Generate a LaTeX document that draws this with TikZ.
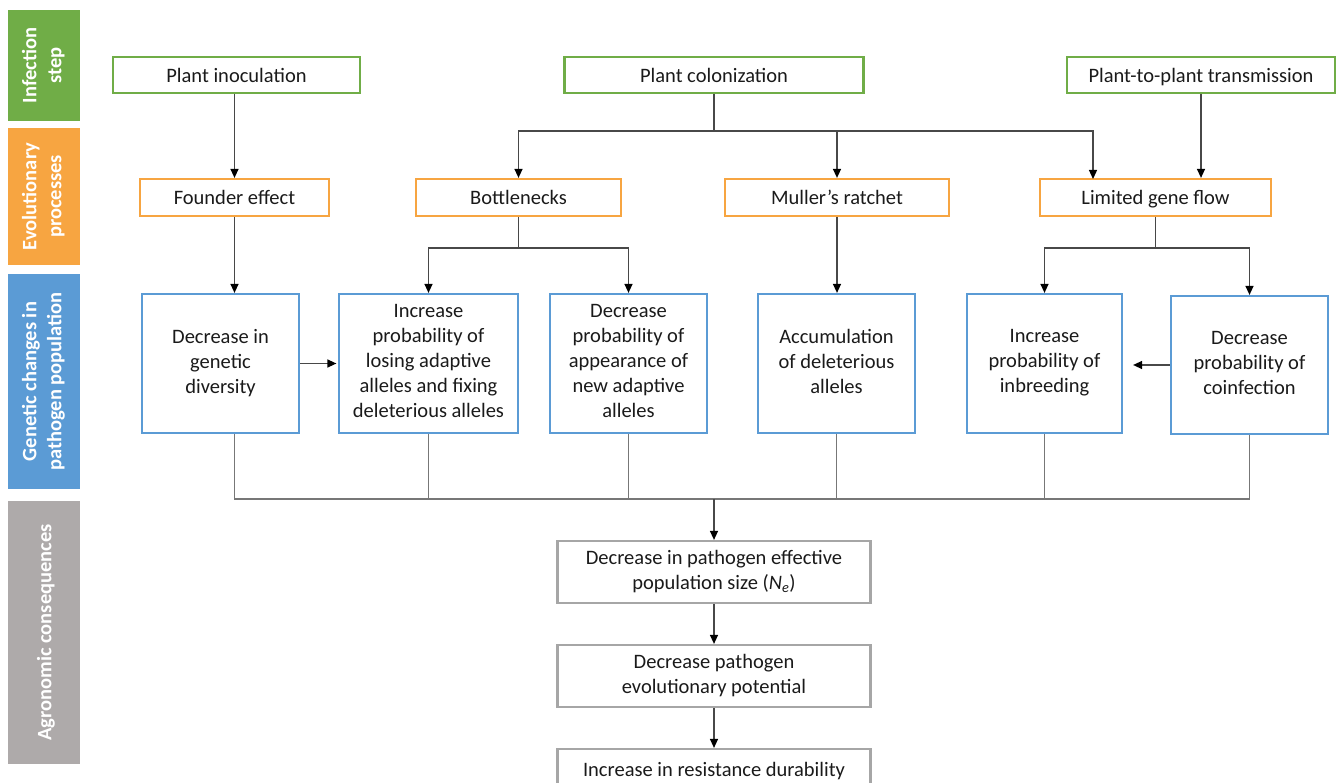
\documentclass[tikz,border=0pt]{standalone}
\usepackage{fontspec}
\setmainfont{Carlito}
\usetikzlibrary{arrows.meta,positioning,calc}
\definecolor{cgreen}{HTML}{70AD47}
\definecolor{corange}{HTML}{F7A541}
\definecolor{cblue}{HTML}{5B9BD5}
\definecolor{cgraybar}{HTML}{AEAAAA}
\definecolor{cgraybox}{HTML}{A6A6A6}
\definecolor{ctop}{HTML}{484848}
\definecolor{cbot}{HTML}{777777}
\definecolor{ctext}{HTML}{1A1A1A}
\newcommand\mystrut{\rule[-4.5pt]{0pt}{23.5pt}}
\begin{document}
\begin{tikzpicture}[x=1pt,y=-1pt,
  every node/.style={font=\fontsize{20.5}{25}\selectfont, text=ctext, inner sep=0pt, align=center,
    execute at begin node={\mystrut}, execute at end node={\mystrut}},
  gbox/.style={draw=cgreen, line width=2.2pt, rectangle, minimum height=36pt},
  obox/.style={draw=corange, line width=2.2pt, rectangle, minimum height=37pt},
  bbox/.style={draw=cblue, line width=2.2pt, rectangle, minimum height=139pt},
  abox/.style={draw=cgraybox, line width=2.2pt, rectangle},
  sidebar/.style={rectangle, minimum width=72pt, text=white, font=\bfseries\fontsize{20.5}{25}\selectfont, rotate=90},
  arr/.style={draw=ctop, line width=1.3pt, -{Triangle[length=9pt,width=8pt,color=black]}},
  tline/.style={draw=ctop, line width=1.3pt},
  gline/.style={draw=cbot, line width=1.4pt},
  garr/.style={draw=ctop, line width=1.3pt, -{Triangle[length=9pt,width=8pt,color=black]}}
]
\useasboundingbox (0,0) rectangle (1344,783);

% side bars
\node[sidebar, fill=cgreen, minimum height=72pt, minimum width=111pt] (s1) at (44,65.5) {Infection\\step};
\node[sidebar, fill=corange, minimum height=72pt, minimum width=137pt] (s2) at (44,196.5) {Evolutionary\\processes};
\node[sidebar, fill=cblue, minimum height=72pt, minimum width=215pt] (s3) at (44,381.5) {Genetic changes in\\pathogen population};
\node[sidebar, fill=cgraybar, minimum height=72pt, minimum width=263pt] (s4) at (44,632.5) {Agronomic consequences};

% infection step
\node[gbox, minimum width=247pt] (pi) at (236.5,75) {Plant inoculation};
\node[gbox, minimum width=299pt] (pc) at (714,75) {Plant colonization};
\node[gbox, minimum width=268pt] (ppt) at (1201,75) {Plant-to-plant transmission};

% evolutionary processes
\node[obox, minimum width=189pt] (fe) at (234.5,197.5) {Founder effect};
\node[obox, minimum width=205pt] (bn) at (518.5,197.5) {Bottlenecks};
\node[obox, minimum width=224pt] (mr) at (837,197.5) {Muller’s ratchet};
\node[obox, minimum width=231pt] (lgf) at (1155.5,197.5) {Limited gene flow};

% genetic changes
\node[bbox, minimum width=157pt] (gd) at (220.5,363.5) {Decrease in\\genetic\\diversity};
\node[bbox, minimum width=179pt] (lo) at (428.5,363.5) {Increase\\probability of\\losing adaptive\\alleles and fixing\\deleterious alleles};
\node[bbox, minimum width=157pt] (ap) at (628.5,363.5) {Decrease\\probability of\\appearance of\\new adaptive\\alleles};
\node[bbox, minimum width=157pt] (ac) at (836.5,363.5) {Accumulation\\of deleterious\\alleles};
\node[bbox, minimum width=155pt] (ib) at (1044.5,363.5) {Increase\\probability of\\inbreeding};
\node[bbox, minimum width=157pt, minimum height=138pt] (co) at (1249.5,365) {Decrease\\probability of\\coinfection};

% agronomic consequences
\node[abox, minimum width=313pt, minimum height=62pt] (ne) at (714,572) {Decrease in pathogen effective\\population size (\textit{N}\textsubscript{\textit{e}})};
\node[abox, minimum width=313pt, minimum height=62pt] (ep) at (714,676) {Decrease pathogen\\evolutionary potential};
\node[abox, minimum width=313pt, minimum height=40pt] (rd) at (714,769) {Increase in resistance durability};

% junctions
\coordinate (j1) at (714,131);
\coordinate (j2) at (518.5,248);
\coordinate (j3) at (1155.5,248);
\coordinate (jb) at (714,499);
\coordinate (lgfin) at (1093,179);

% top connectors
\draw[arr] (pi.south -| fe.north) -- (fe.north);
\draw[tline] (pc.south) -- (j1);
\draw[arr] (j1) -| (bn.north);
\draw[arr] (j1) -| (mr.north);
\draw[arr] (j1) -| (lgfin);
\draw[arr] (ppt.south) -- (ppt.south |- lgf.north);

\draw[arr] (fe.south) -- (fe.south |- gd.north);
\draw[tline] (bn.south) -- (j2);
\draw[arr] (j2) -| (lo.north);
\draw[arr] (j2) -| (ap.north);
\draw[arr] (mr.south) -- (mr.south |- ac.north);
\draw[tline] (lgf.south) -- (j3);
\draw[arr] (j3) -| (ib.north);
\draw[arr] (j3) -| (co.north);

% lateral arrows
\draw[arr, shorten >=1.5pt] (gd.east) -- (lo.west);
\draw[arr, shorten >=10pt] (co.west) -- (co.west -| ib.east);

% bottom collectors
\draw[gline] (gd.south -| fe.south) |- (jb);
\draw[gline] (lo.south) |- (jb);
\draw[gline] (ap.south) |- (jb);
\draw[gline] (ac.south) |- (jb);
\draw[gline] (ib.south) |- (jb);
\draw[gline] (co.south) |- (jb);
\draw[garr] (jb) -- (ne.north);
\draw[garr] (ne.south) -- (ep.north);
\draw[garr] (ep.south) -- (rd.north);
\end{tikzpicture}
\end{document}
